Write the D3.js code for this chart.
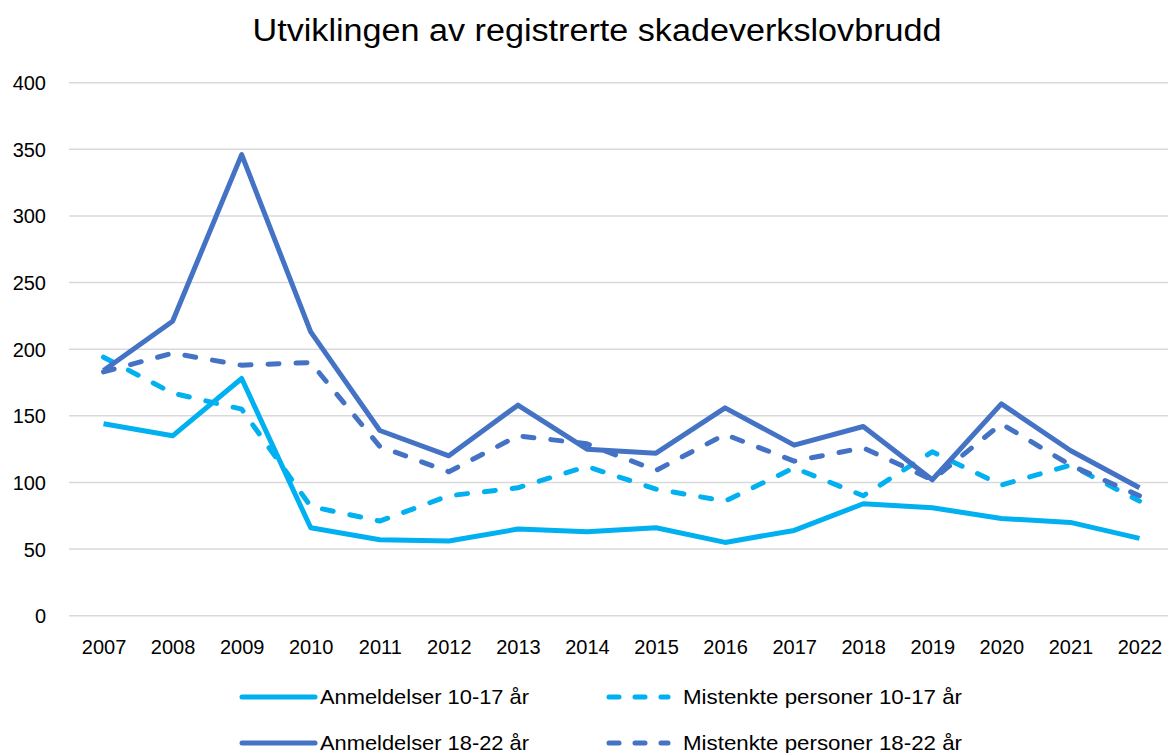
<!DOCTYPE html>
<html>
<head>
<meta charset="utf-8">
<script src="https://cdn.jsdelivr.net/npm/d3@7"></script>
<style>
  html, body { margin: 0; padding: 0; background: #fff; }
  svg { display: block; font-family: "Liberation Sans", Arial, sans-serif; }
</style>
</head>
<body>
<svg id="chart" width="1168" height="753"></svg>
<script>
const title = "Utviklingen av registrerte skadeverkslovbrudd";
const years = ["2007","2008","2009","2010","2011","2012","2013","2014","2015","2016","2017","2018","2019","2020","2021","2022"];
const yTicks = [0, 50, 100, 150, 200, 250, 300, 350, 400];

const anmeldelser1017 = [144, 135, 178, 66, 57, 56, 65, 63, 66, 55, 64, 84, 81, 73, 70, 58];
const mistenkte1017   = [194, 167, 155, 82, 71, 90, 96, 112, 95, 86, 111, 90, 123, 98, 113, 86];
const anmeldelser1822 = [184, 221, 346, 213, 139, 120, 158, 125, 122, 156, 128, 142, 102, 159, 124, 96];
const mistenkte1822   = [183, 197, 188, 190, 127, 108, 135, 129, 109, 136, 116, 126, 102, 144, 113, 90];

const seriesNames = ["Anmeldelser 10-17 år", "Mistenkte personer 10-17 år", "Anmeldelser 18-22 år", "Mistenkte personer 18-22 år"];
const seriesValues = [anmeldelser1017, mistenkte1017, anmeldelser1822, mistenkte1822];
const seriesColors = ["#00B0F0", "#00B0F0", "#4472C4", "#4472C4"];
const seriesDashed = [false, true, false, true];

(function () {
const svg = d3.select("#chart");
const pLeft = 69, pRight = 1174, pTop = 82.7, pBottom = 615.7;

const x = d3.scalePoint().domain(years).range([pLeft, pRight]).padding(0.5);
const y = d3.scaleLinear().domain([0, 400]).range([pBottom, pTop]);

// gridlines
svg.append("g").selectAll("line").data(yTicks).join("line")
  .attr("x1", pLeft).attr("x2", 1168)
  .attr("y1", d => y(d)).attr("y2", d => y(d))
  .attr("stroke", "#d9d9d9").attr("stroke-width", 1.5);

// y axis labels
const yAxis = svg.append("g").attr("transform", `translate(46,0)`)
  .call(d3.axisLeft(y).tickValues(yTicks).tickSize(0).tickPadding(0));
yAxis.select(".domain").remove();
yAxis.selectAll("text").attr("font-size", 20).attr("fill", "#000")
  .attr("font-family", "Liberation Sans, Arial, sans-serif").attr("dy", "0.35em");

// x axis labels
const xAxis = svg.append("g").attr("transform", `translate(0,${pBottom})`)
  .call(d3.axisBottom(x).tickSize(0).tickPadding(0));
xAxis.select(".domain").remove();
xAxis.selectAll("text").attr("font-size", 20).attr("fill", "#000")
  .attr("font-family", "Liberation Sans, Arial, sans-serif")
  .attr("y", 31).attr("dy", "0.35em");

// lines
const line = d3.line().x((d, i) => x(years[i])).y(d => y(d));
const order = [0, 1, 3, 2];
order.forEach(k => {
  svg.append("path").datum(seriesValues[k])
    .attr("d", line)
    .attr("fill", "none")
    .attr("stroke", seriesColors[k])
    .attr("stroke-width", 5)
    .attr("stroke-linejoin", "round")
    .attr("stroke-linecap", seriesDashed[k] ? "round" : "butt")
    .attr("stroke-dasharray", seriesDashed[k] ? "11,17" : null);
});

// title
svg.append("text").attr("x", 597).attr("y", 30).attr("dy", "0.35em")
  .attr("text-anchor", "middle").attr("font-size", 31).attr("fill", "#000")
  .attr("textLength", 689).attr("lengthAdjust", "spacingAndGlyphs")
  .text(title);

// legend
const legendPos = [
  {sx1: 242, sx2: 315, tx: 320, y: 697, tw: 209},
  {sx1: 609, sx2: 668, tx: 683, y: 697, tw: 279},
  {sx1: 242, sx2: 315, tx: 320, y: 743, tw: 209},
  {sx1: 609, sx2: 668, tx: 683, y: 743, tw: 279}
];
const lg = svg.append("g");
seriesNames.forEach((name, k) => {
  const p = legendPos[k];
  lg.append("line").attr("x1", p.sx1).attr("x2", p.sx2).attr("y1", p.y).attr("y2", p.y)
    .attr("stroke", seriesColors[k]).attr("stroke-width", 5)
    .attr("stroke-linecap", "round")
    .attr("stroke-dasharray", seriesDashed[k] ? "10,16" : null);
  lg.append("text").attr("x", p.tx).attr("y", p.y).attr("dy", "0.35em")
    .attr("font-size", 21).attr("fill", "#000")
    .attr("textLength", p.tw).attr("lengthAdjust", "spacingAndGlyphs")
    .text(name);
});
})();
</script>
</body>
</html>
